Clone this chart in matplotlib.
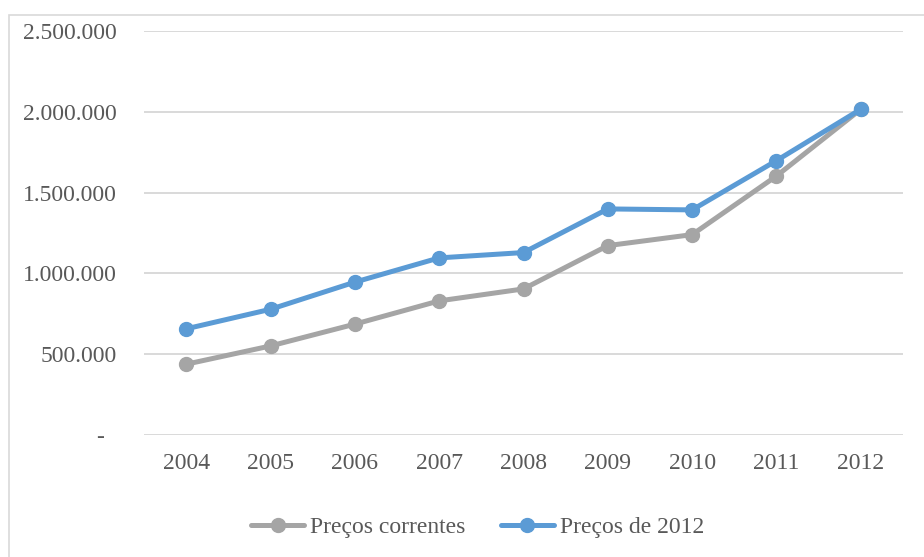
import matplotlib.pyplot as plt
from matplotlib.patches import Rectangle
from matplotlib.ticker import FuncFormatter

anos = ["2004", "2005", "2006", "2007", "2008", "2009", "2010", "2011", "2012"]
precos_correntes = [438000, 551000, 686000, 830000, 904000, 1172000, 1240000, 1603000, 2016000]
precos_2012 = [657000, 778000, 946000, 1096000, 1129000, 1399000, 1393000, 1698000, 2016000]

plt.rcParams["font.family"] = ["Liberation Serif", "DejaVu Serif"]
texto = "#595959"
grade = "#D9D9D9"


def milhares(v, pos):
    if v == 0:
        return "-  "
    return f"{int(v):,}".replace(",", ".")


fig = plt.figure(figsize=(9.24, 5.57), dpi=100)
fig.patches.append(Rectangle((9 / 924, -0.1), 1.2, 1 - 15 / 557 + 0.1,
                             transform=fig.transFigure, fill=False,
                             edgecolor=grade, linewidth=1.2))
ax = fig.add_axes([144 / 924, (557 - 435) / 557, 759 / 924, 404 / 557])

x = range(len(anos))
ax.plot(x, precos_correntes, color="#A5A5A5", lw=3.6, marker="o", ms=10,
        label="Preços correntes", solid_capstyle="round")
ax.plot(x, precos_2012, color="#5B9BD5", lw=3.6, marker="o", ms=10,
        label="Preços de 2012", solid_capstyle="round")

ax.set_xlim(-0.5, len(anos) - 0.5)
ax.set_ylim(0, 2500000)
ax.set_yticks(range(0, 2500001, 500000))
ax.yaxis.set_major_formatter(FuncFormatter(milhares))
ax.set_xticks(list(x))
ax.set_xticklabels(anos)
ax.grid(axis="y", color=grade, lw=1.4)
ax.set_axisbelow(True)
for s in ax.spines.values():
    s.set_visible(False)
ax.tick_params(axis="both", length=0, labelsize=17, labelcolor=texto)
ax.tick_params(axis="y", pad=19.5)
ax.tick_params(axis="x", pad=13)

leg = fig.legend(loc="center", bbox_to_anchor=(477.5 / 924, (557 - 527) / 557), ncol=2,
                 frameon=False, fontsize=17, handlelength=2.25, handletextpad=0.25,
                 columnspacing=1.5)
for t in leg.get_texts():
    t.set_color(texto)

fig.savefig("out.png", dpi=100)
